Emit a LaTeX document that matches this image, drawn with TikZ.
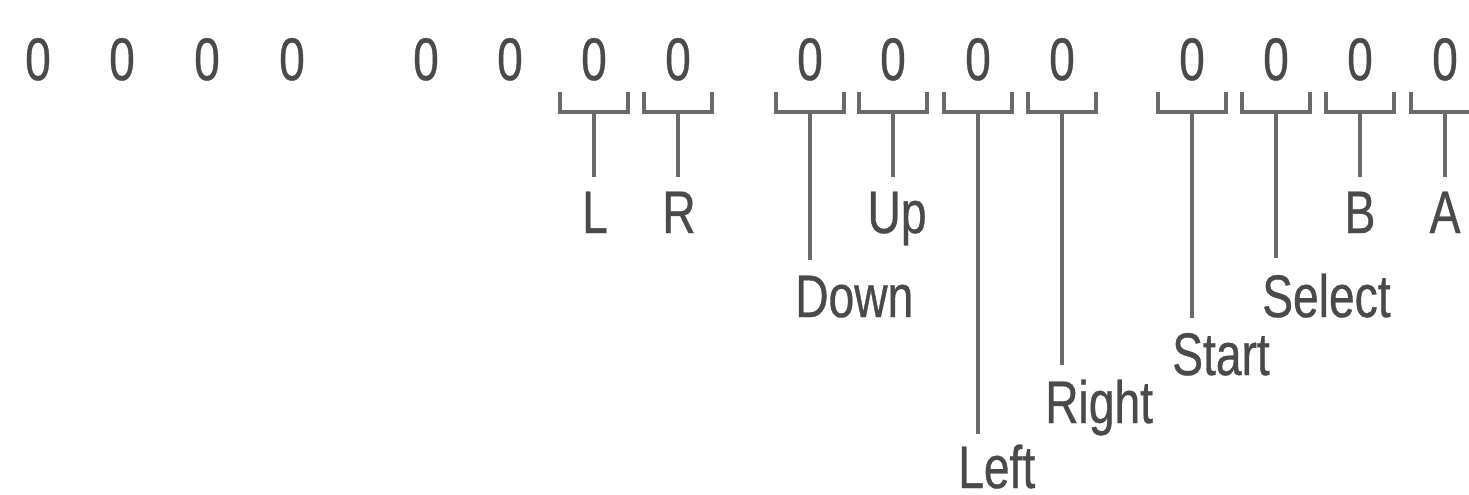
\documentclass[tikz,border=0pt]{standalone}
\usepackage{fontspec}
\setmainfont{Liberation Sans}[FakeStretch=0.77,FakeBold=0.6]
\definecolor{ln}{HTML}{6A6A6A}
\definecolor{txt}{HTML}{4A4A4A}
\begin{document}
\begin{tikzpicture}[x=1pt,y=-1pt,
  bit/.style={font=\fontsize{60}{66}\selectfont, text=txt, inner sep=0pt, anchor=base},
  lbl/.style={font=\fontsize{60}{66}\selectfont, text=txt, inner sep=0pt},
  brk/.style={draw=ln, line width=3.5pt, line join=miter},
  stem/.style={draw=ln, line width=3.5pt}]
\useasboundingbox[fill=white] (0,0) rectangle (1469,495);
% bits
\foreach \x [count=\i] in {38,122,207,292,426,510,594,678,810,893,978,1062,1192,1276,1360,1445}
  \node[bit] (b\i) at (\x,80) {0};
% brackets
\foreach \i/\x in {7/594,8/678,9/810,10/893,11/978,12/1062,13/1192,14/1276,15/1360,16/1445}{
  \draw[brk] (\x-34,92) -- (\x-34,112) -- (\x+34,112) -- (\x+34,92);
  \coordinate (k\i) at (\x,112);
}
% stem ends
\coordinate (e7) at (594,177);
\coordinate (e8) at (678,177);
\coordinate (e9) at (810,260);
\coordinate (e10) at (893,177);
\coordinate (e11) at (978,434);
\coordinate (e12) at (1062,365);
\coordinate (e13) at (1192,318);
\coordinate (e14) at (1276,258);
\coordinate (e15) at (1360,177);
\coordinate (e16) at (1445,177);
\foreach \i in {7,...,16} \draw[stem] (k\i) -- (e\i);
% labels
\node[lbl, anchor=base] (lL) at (595,233) {L};
\node[lbl, anchor=base] (lR) at (679,233) {R};
\node[lbl, anchor=base] (lUp) at (897,233) {Up};
\node[lbl, anchor=base] (lB) at (1360,233) {B};
\node[lbl, anchor=base] (lA) at (1445,233) {A};
\node[lbl, anchor=base west] (lDown) at (795,317) {Down};
\node[lbl, anchor=base west] (lLeft) at (958,488) {Left};
\node[lbl, anchor=base west] (lRight) at (1045,423) {Right};
\node[lbl, anchor=base west] (lStart) at (1172,375) {Start};
\node[lbl, anchor=base west] (lSelect) at (1262,317) {Select};
\end{tikzpicture}
\end{document}
